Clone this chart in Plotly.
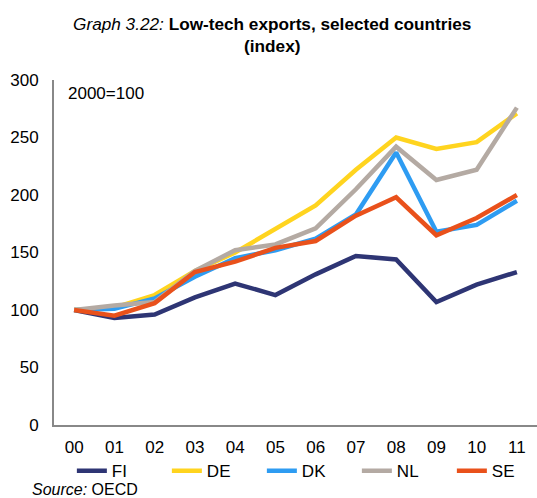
import plotly.graph_objects as go

years = ["00", "01", "02", "03", "04", "05", "06", "07", "08", "09", "10", "11"]
FI = [100, 93, 96, 111, 123, 113, 131, 147, 144, 107, 122, 133]
DE = [100, 102, 113, 134, 150, 171, 191, 222, 250, 240, 246, 271]
DK = [100, 101, 110, 129, 145, 152, 162, 183, 237, 168, 174, 195]
NL = [100, 104, 107, 134, 152, 157, 171, 205, 242, 213, 222, 276]
SE = [100, 95, 106, 133, 142, 154, 160, 182, 198, 165, 180, 200]

series = [("FI", FI, "#2E3574"), ("DE", DE, "#FFD41F"), ("DK", DK, "#2E9CF2"),
          ("NL", NL, "#B4AAA3"), ("SE", SE, "#E9511B")]

fig = go.Figure()
for name, vals, col in series:
    fig.add_trace(go.Scatter(x=years, y=vals, name=name, mode="lines",
                             line=dict(color=col, width=4.5)))

font = "Liberation Sans, Arial, sans-serif"
fig.update_layout(
    width=537, height=498,
    margin=dict(l=54, r=0, t=80, b=73, autoexpand=False),
    paper_bgcolor="white", plot_bgcolor="white",
    font=dict(family=font, size=17, color="black"),
    title=dict(text="<i>Graph 3.22:</i> <b>Low-tech exports, selected countries</b><br><b>(index)</b>",
               x=0.507, xanchor="center", y=0.94, yanchor="top",
               font=dict(family=font, size=17.2, color="black")),
    xaxis=dict(showgrid=False, showline=True, linecolor="#888888", linewidth=2,
               ticks="", tickfont=dict(size=17), zeroline=False, range=[-0.5, 11.5],
               ticklabelstandoff=6),
    yaxis=dict(range=[0, 300], dtick=50, showgrid=False, showline=True,
               linecolor="#888888", linewidth=2, ticks="", tickfont=dict(size=17),
               zeroline=False, ticklabelstandoff=10),
    legend=dict(orientation="h", x=0.037, xanchor="left", yref="container", y=0.054,
                yanchor="middle", entrywidth=50, entrywidthmode="pixels",
                font=dict(size=17), tracegroupgap=0, bgcolor="rgba(0,0,0,0)"),
    showlegend=True,
)
fig.add_annotation(text="2000=100", xref="paper", yref="paper", x=0.025, y=0.96,
                   xanchor="left", yanchor="middle", showarrow=False,
                   font=dict(size=17, family=font))
fig.add_annotation(text="<i>Source:</i> OECD", xref="paper", yref="paper",
                   x=-0.05, y=-0.186, xanchor="left", yanchor="middle", showarrow=False,
                   font=dict(size=16, family=font))

fig.write_html("out.html", config={"displayModeBar": False},
               post_script="document.body.style.margin='0';")
